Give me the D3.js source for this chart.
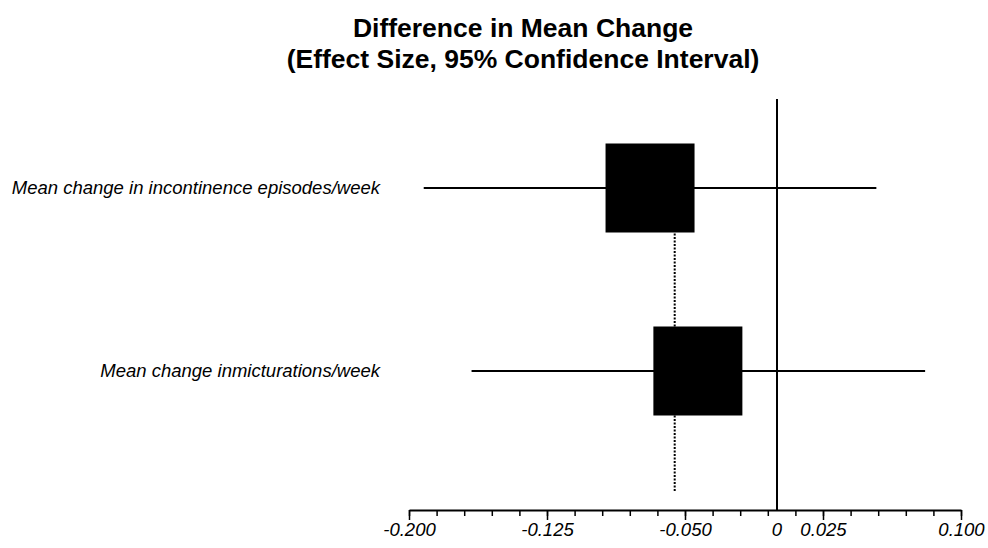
<!DOCTYPE html>
<html>
<head>
<meta charset="utf-8">
<script src="https://cdn.jsdelivr.net/npm/d3@7"></script>
<style>
  body { margin: 0; background: #fff; }
  svg { display: block; font-family: "Liberation Sans", Arial, sans-serif; }
</style>
</head>
<body>
<div id="chart"></div>
<script>
// outcomes
const outcomes = ["Mean change in incontinence episodes/week", "Mean change inmicturations/week"];
const effect = [-0.069, -0.043];
const ciLow = [-0.192, -0.166];
const ciHigh = [0.054, 0.0805];
const pooled = -0.0556;

const titleLines = ["Difference in Mean Change", "(Effect Size, 95% Confidence Interval)"];
const majorTicks = [-0.2, -0.125, -0.05, 0.025, 0.1];
const majorLabels = ["-0.200", "-0.125", "-0.050", "0.025", "0.100"];
const minorTicks = d3.range(0, 21).map(i => -0.2 + i * 0.015);

const rows = outcomes.map((name, i) => ({
  name: name, est: effect[i], lo: ciLow[i], hi: ciHigh[i]
}));

function draw() {
  const width = 988;
  const height = 548;
  const axisY = 510;
  const box = 89;

  const svg = d3.select('#chart')
    .append('svg')
    .attr('width', width)
    .attr('height', height);

  const x = d3.scaleLinear()
    .domain([-0.2, 0.1])
    .range([409, 961]);

  const y = d3.scalePoint()
    .domain(outcomes)
    .range([188, 371]);

  // title
  svg.append('text')
    .attr('x', 523)
    .attr('y', 37)
    .attr('text-anchor', 'middle')
    .style('font-weight', 'bold')
    .style('font-size', '26.5px')
    .selectAll('tspan')
    .data(titleLines)
    .enter()
    .append('tspan')
    .attr('x', 523)
    .attr('dy', (d, i) => i === 0 ? 0 : 31)
    .text(d => d);

  // zero line
  svg.append('line')
    .attr('x1', x(0)).attr('x2', x(0))
    .attr('y1', 99).attr('y2', axisY)
    .attr('stroke', '#000')
    .attr('stroke-width', 2);

  // pooled estimate (dotted)
  svg.append('line')
    .attr('x1', x(pooled)).attr('x2', x(pooled))
    .attr('y1', y(outcomes[0])).attr('y2', 492)
    .attr('stroke', '#000')
    .attr('stroke-width', 2)
    .attr('stroke-dasharray', '2,1.5');

  // confidence intervals
  svg.selectAll('.ci')
    .data(rows)
    .enter()
    .append('line')
    .attr('class', 'ci')
    .attr('x1', d => x(d.lo))
    .attr('x2', d => x(d.hi))
    .attr('y1', d => y(d.name))
    .attr('y2', d => y(d.name))
    .attr('stroke', '#000')
    .attr('stroke-width', 2);

  // effect boxes
  svg.selectAll('.est')
    .data(rows)
    .enter()
    .append('rect')
    .attr('class', 'est')
    .attr('x', d => x(d.est) - box / 2)
    .attr('y', d => y(d.name) - box / 2)
    .attr('width', box)
    .attr('height', box)
    .attr('fill', '#000');

  // row labels
  svg.selectAll('.lab')
    .data(rows)
    .enter()
    .append('text')
    .attr('class', 'lab')
    .attr('x', 380)
    .attr('y', d => y(d.name))
    .attr('dy', '0.34em')
    .attr('text-anchor', 'end')
    .style('font-style', 'italic')
    .style('font-size', '18.5px')
    .text(d => d.name);

  // axis: minor ticks
  const gMinor = svg.append('g')
    .attr('transform', 'translate(0,' + axisY + ')')
    .call(d3.axisBottom(x).tickValues(minorTicks).tickSize(6).tickSizeOuter(0).tickFormat(''));
  gMinor.select('.domain').attr('stroke-width', 2);
  gMinor.selectAll('.tick line').attr('stroke-width', 1.5);

  // axis: major ticks with labels
  const gMajor = svg.append('g')
    .attr('transform', 'translate(0,' + axisY + ')')
    .call(d3.axisBottom(x).tickValues(majorTicks).tickSize(10).tickSizeOuter(0)
      .tickFormat((d, i) => majorLabels[i]));
  gMajor.select('.domain').remove();
  gMajor.selectAll('.tick line').attr('stroke-width', 1.5);
  gMajor.selectAll('.tick text')
    .attr('y', 13)
    .attr('dy', '0.71em')
    .style('font-family', '"Liberation Sans", Arial, sans-serif')
    .style('font-style', 'italic')
    .style('font-size', '18.5px')
    .attr('fill', '#000');

  // zero label
  svg.append('text')
    .attr('x', x(0))
    .attr('y', axisY + 13)
    .attr('dy', '0.71em')
    .attr('text-anchor', 'middle')
    .style('font-style', 'italic')
    .style('font-size', '18.5px')
    .text('0');
}

draw();
</script>
</body>
</html>
